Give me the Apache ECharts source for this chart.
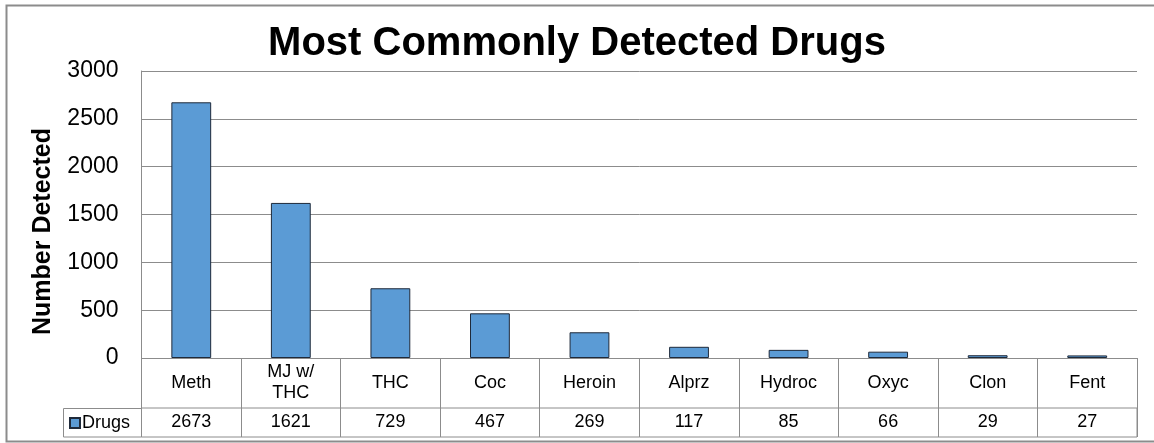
<!DOCTYPE html>
<html>
<head>
<meta charset="utf-8">
<script src="https://cdn.jsdelivr.net/npm/echarts@6/dist/echarts.min.js"></script>
<style>
  html, body { margin: 0; padding: 0; background: #fff; }
  #chart { width: 1154px; height: 443px; }
</style>
</head>
<body>
<div id="chart"></div>
<script>
var drugs = ['Meth', 'MJ w/\nTHC', 'THC', 'Coc', 'Heroin', 'Alprz', 'Hydroc', 'Oxyc', 'Clon', 'Fent'];
var counts = [2673, 1621, 729, 467, 269, 117, 85, 66, 29, 27];
var yTicks = [0, 500, 1000, 1500, 2000, 2500, 3000];

var font = '"Liberation Sans", Arial, sans-serif';
var lineGray = '#8c8c8c';

var myChart = echarts.init(document.getElementById('chart'));
var option = {
  animation: false,
  textStyle: { fontFamily: font },
  title: {
    text: 'Most Commonly Detected Drugs',
    left: 'center',
    top: 19,
    textStyle: { fontSize: 40, fontWeight: 'bold', color: '#000', fontFamily: font }
  },
  legend: {
    data: ['Drugs'],
    left: 69,
    top: 414,
    padding: 0,
    icon: 'rect',
    itemWidth: 10,
    itemHeight: 10,
    itemGap: 0,
    textStyle: { fontSize: 18, color: '#000', fontFamily: font, padding: [0, 0, 0, -3] }
  },
  grid: [
    // plot area
    { left: 141.5, right: 17, top: 71, bottom: 85 },
    // value row of the data table
    { left: 141.5, right: 17, top: 408, height: 29, show: true, borderColor: lineGray, borderWidth: 1 }
  ],
  xAxis: [
    {
      type: 'category',
      gridIndex: 0,
      data: drugs,
      axisLine: { lineStyle: { color: lineGray, width: 1 } },
      axisTick: { show: true, length: 50, lineStyle: { color: lineGray } },
      axisLabel: {
        color: '#000', fontSize: 18, margin: 25, verticalAlign: 'middle',
        lineHeight: 21, interval: 0, fontFamily: font
      }
    },
    {
      type: 'category',
      gridIndex: 1,
      data: drugs,
      axisLine: { show: false },
      axisTick: { show: false },
      splitLine: { show: true, lineStyle: { color: lineGray, width: 1 } },
      axisLabel: {
        inside: true, margin: 14.5, verticalAlign: 'middle', interval: 0,
        color: '#000', fontSize: 18, fontFamily: font,
        formatter: function (v, i) { return String(counts[i]); }
      }
    }
  ],
  yAxis: [
    {
      type: 'value',
      gridIndex: 0,
      min: yTicks[0],
      max: yTicks[yTicks.length - 1],
      interval: 500,
      name: 'Number Detected',
      nameLocation: 'middle',
      nameRotate: 90,
      nameGap: 86,
      nameTextStyle: {
        fontSize: 25, fontWeight: 'bold', color: '#000', fontFamily: font,
        padding: [0, 34, 0, 0]
      },
      axisLine: { show: true, lineStyle: { color: lineGray, width: 1 } },
      axisTick: { show: false },
      splitLine: { show: true, lineStyle: { color: lineGray, width: 1 } },
      axisLabel: {
        color: '#000', fontSize: 23, margin: 23, fontFamily: font,
        formatter: function (v) { return String(v); }
      }
    },
    { type: 'value', gridIndex: 1, show: false }
  ],
  series: [
    {
      name: 'Drugs',
      type: 'bar',
      xAxisIndex: 0,
      yAxisIndex: 0,
      data: counts,
      barWidth: '40%',
      itemStyle: { color: '#5b9bd5', borderColor: '#1f2a3a', borderWidth: 1 }
    }
  ],
  graphic: [
    // outer chart border
    { type: 'rect', shape: { x: 6.5, y: 5.5, width: 1160, height: 436 },
      style: { fill: 'none', stroke: lineGray, lineWidth: 2 }, silent: true },
    // legend key cell of the data table
    { type: 'rect', shape: { x: 63.5, y: 408.5, width: 78, height: 28.5 },
      style: { fill: 'none', stroke: lineGray, lineWidth: 1 }, silent: true }
  ]
};
myChart.setOption(option);
</script>
</body>
</html>
